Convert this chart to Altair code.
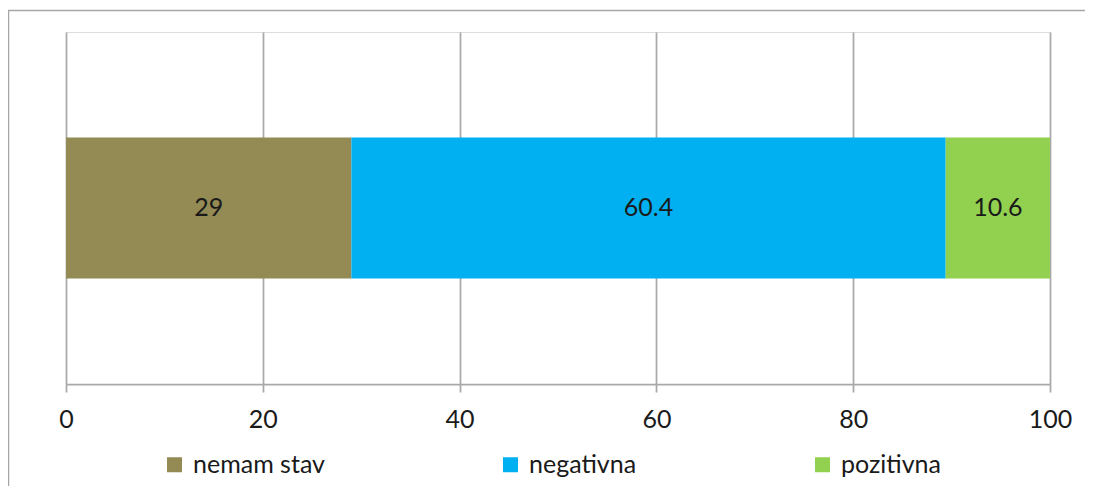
import altair as alt
import pandas as pd

categories = ["nemam stav", "negativna", "pozitivna"]
values = [29, 60.4, 10.6]
labels = ["29", "60.4", "10.6"]
colors = ["#948A54", "#00B0F0", "#92D050"]
x_ticks = [0, 20, 40, 60, 80, 100]

df = pd.DataFrame({
    "row": ["a"] * 3,
    "category": categories,
    "value": values,
    "label": labels,
    "order": [0, 1, 2],
})

FONT = "Lato"
FS = 25
W, H = 984, 352
GRID = "#a9a9a9"

color_scale = alt.Scale(domain=categories, range=colors)

base = alt.Chart(df).transform_stack(
    stack="value", groupby=["row"], as_=["x0", "x1"], sort=[alt.SortField("order")]
).transform_calculate(mid="(datum.x0 + datum.x1) / 2")

bars = base.mark_bar(size=141).encode(
    x=alt.X("x0:Q", scale=alt.Scale(domain=[0, 100], nice=False),
            axis=alt.Axis(values=x_ticks, title=None, grid=True, gridColor=GRID,
                          gridWidth=1.75, domainColor=GRID, domainWidth=1.75,
                          tickColor=GRID, tickWidth=1.75, tickSize=8,
                          labelFont=FONT, labelFontSize=FS, labelColor="#1a1a1a",
                          labelPadding=15, labelFlush=False, labelBound=False,
                          labelOverlap=False)),
    x2="x1:Q",
    y=alt.Y("row:N", axis=None),
    color=alt.Color("category:N", scale=color_scale, sort=categories,
                    legend=alt.Legend(title=None, orient="none", direction="horizontal",
                                      columns=3, legendX=96, legendY=420,
                                      symbolType="square", symbolSize=225,
                                      symbolStrokeWidth=0, symbolOpacity=1,
                                      labelFont=FONT, labelFontSize=FS,
                                      labelColor="#1a1a1a", labelOffset=6,
                                      columnPadding=173)),
    order=alt.Order("order:Q"),
)

text = base.mark_text(font=FONT, fontSize=FS, color="#1a1a1a", baseline="middle").encode(
    x="mid:Q",
    y=alt.Y("row:N", axis=None),
    text="label:N",
)

border = alt.Chart(pd.DataFrame({"b": [1]})).mark_rect(
    filled=False, stroke="#a6a6a6", strokeWidth=1.5, clip=False
).encode(
    x=alt.value(-57.5), x2=alt.value(1200), y=alt.value(-21.5), y2=alt.value(700)
)

chart = alt.layer(border, bars, text).properties(
    width=W, height=H,
    autosize=alt.AutoSizeParams(type="none"),
    padding={"left": 58, "top": 24, "right": 35, "bottom": 102},
).configure_view(stroke=None).configure(background="white")

chart.save("out.html", embed_options={"renderer": "svg", "actions": False})
